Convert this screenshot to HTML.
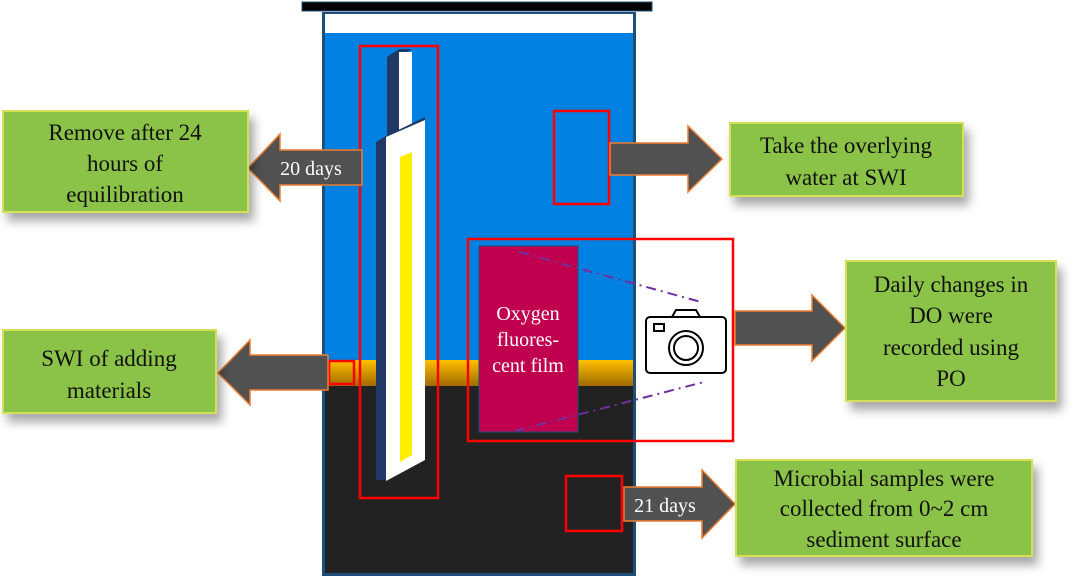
<!DOCTYPE html>
<html><head><style>
html,body{margin:0;padding:0;background:#fff;width:1080px;height:580px;overflow:hidden}
svg{display:block}
text{font-family:"Liberation Serif",serif}
</style></head><body>
<svg width="1080" height="580" viewBox="0 0 1080 580" xmlns="http://www.w3.org/2000/svg">
<defs>
<linearGradient id="og" x1="0" y1="0" x2="0" y2="1"><stop offset="0" stop-color="#ffc000"/><stop offset="1" stop-color="#a06a00"/></linearGradient>
<filter id="sh" x="-10%" y="-10%" width="130%" height="140%"><feDropShadow dx="5" dy="8" stdDeviation="5" flood-color="#000" flood-opacity="0.35"/></filter>
</defs>
<rect x="302" y="2" width="350" height="9" fill="#000" stroke="#1f4e79" stroke-width="1"/>
<rect x="322" y="12" width="314" height="564" fill="#1f4e79"/>
<rect x="325" y="14" width="308" height="19" fill="#fff"/>
<rect x="325" y="33" width="308" height="327" fill="#0080e0"/>
<rect x="325" y="360" width="308" height="26" fill="url(#og)"/>
<rect x="325" y="386" width="308" height="187" fill="#222"/>
<polygon points="387,57 399,49 412,49 399,57" fill="#1f3864"/>
<rect x="387" y="57" width="12" height="90" fill="#1f3864"/>
<rect x="399" y="52" width="13" height="88" fill="#fff"/>
<polygon points="376,142 386,136 425,117 425,123 386,142" fill="#1f3864"/>
<polygon points="376,142 386,137 386,480 376,480" fill="#1f3864"/>
<polygon points="386,137 425,120 425,460 386,481" fill="#fff"/>
<polygon points="400,157 412,152 412,455 400,462" fill="#ffee00"/>
<rect x="479" y="246" width="99" height="186" fill="#c0004e" stroke="#1f4e79"/>
<text x="528" y="320" fill="#fff" font-size="20" text-anchor="middle">Oxygen</text>
<text x="528" y="346" fill="#fff" font-size="20" text-anchor="middle">fluores-</text>
<text x="528" y="372" fill="#fff" font-size="20" text-anchor="middle">cent film</text>
<rect x="636" y="240" width="96" height="200" fill="#fff"/>
<line x1="519" y1="252" x2="701" y2="302" stroke="#7030a0" stroke-width="2" stroke-dasharray="10,5,2,5"/>
<line x1="515" y1="431" x2="704" y2="382" stroke="#7030a0" stroke-width="2" stroke-dasharray="10,5,2,5"/>
<g fill="none" stroke="#000" stroke-width="2">
<path d="M672,317 l4,-7 h20 l4,7"/>
<rect x="646" y="317" width="80" height="56" rx="4"/>
<circle cx="686" cy="348" r="17"/><circle cx="686" cy="348" r="12"/>
<rect x="654" y="324" width="10" height="7"/>
</g>
<g fill="none" stroke="#ff0000" stroke-width="2.5">
<rect x="360" y="46" width="78" height="452"/>
<rect x="554" y="111" width="55" height="93"/>
<rect x="468" y="239" width="265" height="202"/>
<rect x="566" y="476" width="56" height="55"/>
<rect x="329" y="361" width="25" height="23"/>
</g>
<g fill="#515151" stroke="#ed7d31" stroke-width="1.5">
<polygon points="362,150 280,150 280,134 248,168 280,201 280,185 362,185"/>
<polygon points="328,355 250,355 250,340 218,373 250,405 250,390 328,390"/>
<polygon points="610,143 688,143 688,126 722,159 688,192 688,175 610,175"/>
<polygon points="735,311 812,311 812,295 845,328 812,361 812,345 735,345"/>
<polygon points="624,487 702,487 702,470 735,504 702,538 702,521 624,521"/>
</g>
<text x="311" y="175" fill="#fff" font-size="20" text-anchor="middle">20 days</text>
<text x="665" y="512" fill="#fff" font-size="20" text-anchor="middle">21 days</text>
<g fill="#8bc34a" stroke="#d4e157" stroke-width="2" filter="url(#sh)">
<rect x="3" y="111" width="245" height="101"/>
<rect x="3" y="330" width="213" height="83"/>
<rect x="730" y="123" width="233" height="73"/>
<rect x="846" y="261" width="210" height="140"/>
<rect x="736" y="460" width="296" height="96"/>
</g>
<g font-size="23" fill="#111" text-anchor="middle">
<text x="125" y="140">Remove after 24</text>
<text x="125" y="171">hours of</text>
<text x="125" y="202">equilibration</text>
<text x="109" y="366">SWI of adding</text>
<text x="109" y="398">materials</text>
<text x="846" y="153">Take the overlying</text>
<text x="846" y="185">water at SWI</text>
<text x="951" y="292">Daily changes in</text>
<text x="951" y="323">DO were</text>
<text x="951" y="355">recorded using</text>
<text x="951" y="386">PO</text>
<text x="884" y="486">Microbial samples were</text>
<text x="884" y="516">collected from 0~2 cm</text>
<text x="884" y="547">sediment surface</text>
</g>
</svg>
</body></html>
